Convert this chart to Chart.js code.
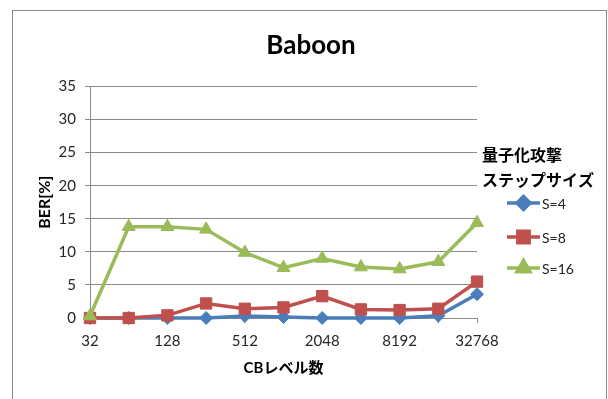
<!DOCTYPE html>
<html>
<head>
<meta charset="utf-8">
<script src="https://cdn.jsdelivr.net/npm/chart.js@4"></script>
<style>
    body { margin: 0; background: #fff; }
    #wrap { position: relative; width: 608px; height: 399px; }
    #frame {
        position: absolute; left: 12px; top: 10px; width: 593px; height: 400px;
        border: 1px solid #8a8a8a; pointer-events: none;
    }
</style>
</head>
<body>
<div id="wrap">
    <canvas id="chart" width="608" height="399"></canvas>
    <div id="frame"></div>
</div>
<script>
const FONT = "Lato, 'Noto Sans CJK JP', sans-serif";

// CB levels on the x axis (only every other one gets a label)
const levels = ['32', '64', '128', '256', '512', '1024', '2048', '4096', '8192', '16384', '32768'];

// BER[%] per quantization step size
const berS4 = [0, 0, 0, 0, 0.3, 0.15, 0, 0, 0, 0.35, 3.6];
const berS8 = [0, 0, 0.4, 2.2, 1.4, 1.6, 3.3, 1.3, 1.2, 1.4, 5.5];
const berS16 = [0.3, 13.8, 13.8, 13.4, 9.9, 7.6, 9.0, 7.7, 7.4, 8.5, 14.4];

const legendTitle = ['量子化攻撃', 'ステップサイズ'];

function series(label, data, color, pointStyle, radius, order) {
    return {
        label, data, order, pointStyle,
        clip: false,
        borderColor: color,
        backgroundColor: color,
        borderWidth: 3.5,
        pointRadius: radius,
        pointBorderWidth: 1,
        pointBorderColor: color,
        pointBackgroundColor: color,
        tension: 0
    };
}

// title + legend drawn by hand so they sit where the layout needs them
const decorations = {
    id: 'decorations',
    afterDraw(chart) {
        const ctx = chart.ctx;
        ctx.save();
        ctx.fillStyle = '#000';
        ctx.textAlign = 'center';
        ctx.textBaseline = 'alphabetic';
        ctx.font = 'bold 26px ' + FONT;
        ctx.fillText('Baboon', 311, 54);

        ctx.textAlign = 'left';
        ctx.textBaseline = 'middle';
        ctx.font = 'bold 16px ' + FONT;
        ctx.fillText(legendTitle[0], 482, 156);
        ctx.fillText(legendTitle[1], 482, 181);

        const rows = [203, 237, 268];
        chart.data.datasets.forEach((ds, i) => {
            const y = rows[i];
            ctx.strokeStyle = ds.borderColor;
            ctx.lineWidth = ds.borderWidth;
            ctx.beginPath();
            ctx.moveTo(507, y);
            ctx.lineTo(540, y);
            ctx.stroke();
            ctx.fillStyle = ds.backgroundColor;
            Chart.helpers.drawPoint(ctx, {
                pointStyle: ds.pointStyle,
                radius: ds.pointRadius,
                borderWidth: 1,
                rotation: 0
            }, 523.5, y);
            ctx.fill();
            ctx.fillStyle = '#222';
            ctx.font = '14px ' + FONT;
            ctx.fillText(ds.label, 542, y + 1);
        });
        ctx.restore();
    }
};

new Chart(document.getElementById('chart'), {
    type: 'line',
    data: {
        labels: levels,
        datasets: [
            series('S=4', berS4, '#4a7ebb', 'rectRot', 6.5, 2),
            series('S=8', berS8, '#c0504d', 'rect', 8, 1),
            series('S=16', berS16, '#9bbb59', 'triangle', 7.5, 0)
        ]
    },
    options: {
        responsive: false,
        animation: false,
        layout: { padding: { left: 0, top: 86.5, right: 131, bottom: 0 } },
        plugins: {
            legend: { display: false },
            tooltip: { enabled: false }
        },
        scales: {
            x: {
                offset: false,
                afterFit(scale) { scale.height = 81; },
                border: { display: true, color: '#8a8a8a', width: 1 },
                grid: { drawOnChartArea: false, drawTicks: true, tickLength: 5, color: '#8a8a8a' },
                ticks: {
                    autoSkip: false,
                    maxRotation: 0,
                    padding: 9,
                    color: '#262626',
                    font: { family: FONT, size: 15 },
                    callback: (v, i) => (i % 2 === 0 ? levels[i] : '')
                },
                title: {
                    display: true,
                    text: 'CBレベル数',
                    color: '#000',
                    font: { family: FONT, size: 15, weight: 'bold' },
                    padding: { top: 0, bottom: 22 }
                }
            },
            y: {
                min: 0,
                max: 35,
                afterFit(scale) { scale.width = 90; },
                border: { display: true, color: '#8a8a8a', width: 1 },
                grid: { color: '#8a8a8a', lineWidth: 1, drawTicks: true, tickLength: 5 },
                ticks: {
                    stepSize: 5,
                    padding: 9,
                    color: '#262626',
                    font: { family: FONT, size: 15 }
                },
                title: {
                    display: true,
                    text: 'BER[%]',
                    color: '#000',
                    font: { family: FONT, size: 16, weight: 'bold' },
                    padding: { top: 35, bottom: 0 }
                }
            }
        }
    },
    plugins: [decorations]
});
</script>
</body>
</html>
